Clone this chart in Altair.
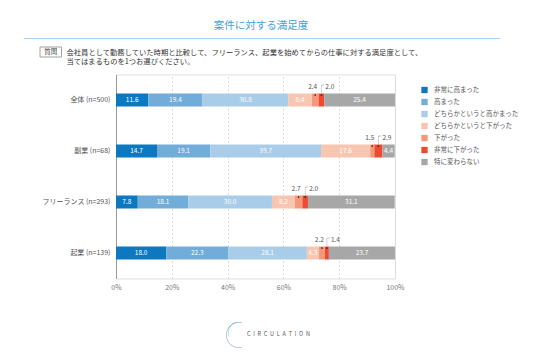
import altair as alt
import pandas as pd

categories = ["全体 (n=500)", "副業 (n=68)", "フリーランス (n=293)", "起業 (n=139)"]
levels = ["非常に高まった", "高まった", "どちらかというと高かまった", "どちらかというと下がった",
          "下がった", "非常に下がった", "特に変わらない"]
colors = ["#0b78bf", "#72acd9", "#a9cce9", "#f8c6b0", "#f4977a", "#ee4a30", "#a8a7a8"]

very_up = [11.6, 14.7, 7.8, 18.0]
up = [19.4, 19.1, 18.1, 22.3]
slightly_up = [30.8, 39.7, 30.0, 28.1]
slightly_down = [8.4, 17.6, 8.2, 4.3]
down = [2.4, 1.5, 2.7, 2.2]
very_down = [2.0, 2.9, 2.0, 1.4]
unchanged = [25.4, 4.4, 31.1, 23.7]
series = [very_up, up, slightly_up, slightly_down, down, very_down, unchanged]

title_text = "案件に対する満足度"
question_tag = "質問"
question_lines = ["会社員として勤務していた時期と比較して、フリーランス、起業を始めてからの仕事に対する満足度として、",
                  "当てはまるものを1つお選びください。"]
logo_text = "C\u2002I\u2002R\u2002C\u2002U\u2002L\u2002A\u2002T\u2002I\u2002O\u2002N"
x_ticks = [0, 20, 40, 60, 80, 100]

rows = []
for i, c in enumerate(categories):
    start = 0.0
    for j, lv in enumerate(levels):
        v = series[j][i]
        rows.append(dict(cat=c, level=lv, order=j, value=v, start=start, end=start + v,
                         mid=start + v / 2, lab=f"{v:.1f}"))
        start += v
df = pd.DataFrame(rows)
df["mid_r"] = df["mid"] + 1.0

FONT = "Noto Sans CJK JP"
W, H = 279, 204

y_enc = alt.Y("cat:N", sort=categories,
              scale=alt.Scale(paddingInner=0, paddingOuter=0),
              axis=alt.Axis(title=None, ticks=False, domain=True, domainColor="#9a9a9a",
                            domainWidth=1, labelFontSize=7, labelColor="#555",
                            labelPadding=6, grid=False, labelFont=FONT))
x_scale = alt.Scale(domain=[0, 100], nice=False)

bars = alt.Chart(df).mark_bar(size=13).encode(
    x=alt.X("start:Q", scale=x_scale,
            axis=alt.Axis(values=x_ticks, labelExpr="datum.value + '%'", title=None,
                          domain=False, ticks=False, grid=True, gridDash=[2, 2],
                          gridColor="#dcdcdc", labelFontSize=7, labelColor="#777",
                          labelPadding=5, labelFont=FONT, labelFlush=False,
                          labelOverlap=False)),
    x2="end:Q",
    y=y_enc,
    order=alt.Order("order:Q"),
    color=alt.Color("level:N", scale=alt.Scale(domain=levels, range=colors),
                    legend=alt.Legend(orient="none", legendX=305, legendY=12, title=None,
                                      symbolType="square", symbolSize=40,
                                      symbolStrokeWidth=0, labelFontSize=6.5,
                                      labelColor="#555", labelFont=FONT,
                                      rowPadding=5, labelOffset=6)),
)

inner = alt.Chart(df[df["value"] >= 3]).mark_text(
    color="white", fontSize=6.5, font=FONT).encode(
    x=alt.X("mid:Q", scale=x_scale), y=alt.Y("cat:N", sort=categories), text="lab:N")

d1 = df[df["level"] == "下がった"]
d2 = df[df["level"] == "非常に下がった"]

small1 = alt.Chart(d1).mark_text(align="right", dx=2, dy=-13, fontSize=6.5,
                                 color="#555", font=FONT).encode(
    x=alt.X("mid:Q", scale=x_scale), y=alt.Y("cat:N", sort=categories), text="lab:N")
small2 = alt.Chart(d2).mark_text(align="left", dx=4, dy=-13, fontSize=6.5,
                                 color="#555", font=FONT).encode(
    x=alt.X("mid:Q", scale=x_scale), y=alt.Y("cat:N", sort=categories), text="lab:N")
dots = alt.Chart(pd.concat([d1, d2])).mark_circle(size=3, color="#222", opacity=1,
                                                   yOffset=-5).encode(
    x=alt.X("mid:Q", scale=x_scale), y=alt.Y("cat:N", sort=categories))
lead_v = alt.Chart(d2).mark_tick(orient="vertical", size=8, thickness=0.6, color="#999",
                                 yOffset=-11).encode(
    x=alt.X("mid:Q", scale=x_scale), y=alt.Y("cat:N", sort=categories))
lead_h = alt.Chart(d2).mark_rule(color="#999", strokeWidth=0.6, yOffset=-15).encode(
    x=alt.X("mid:Q", scale=x_scale), x2="mid_r:Q", y=alt.Y("cat:N", sort=categories))

ann = pd.DataFrame({"t": [title_text]})
title = alt.Chart(ann).mark_text(fontSize=10.5, color="#3fa0d8", font=FONT).encode(
    x=alt.value(145), y=alt.value(-48.5), text="t:N")
hline = alt.Chart(ann).mark_rule(color="#a6d3ef", strokeWidth=1).encode(
    x=alt.value(-92), x2=alt.value(384), y=alt.value(-36))
qbox = alt.Chart(ann).mark_rect(fill="white", stroke="#888", strokeWidth=0.8).encode(
    x=alt.value(-76), x2=alt.value(-54.5), y=alt.value(-27.5), y2=alt.value(-17.5))
qtag = alt.Chart(pd.DataFrame({"t": [question_tag]})).mark_text(
    fontSize=6.5, color="#444", font=FONT).encode(
    x=alt.value(-65.2), y=alt.value(-22.3), text="t:N")
q1 = alt.Chart(pd.DataFrame({"t": [question_lines[0]]})).mark_text(
    fontSize=7.3, color="#333", font=FONT, align="left").encode(
    x=alt.value(-49.5), y=alt.value(-21.8), text="t:N")
q2 = alt.Chart(pd.DataFrame({"t": [question_lines[1]]})).mark_text(
    fontSize=7.3, color="#333", font=FONT, align="left").encode(
    x=alt.value(-49.5), y=alt.value(-12.8), text="t:N")
logo_arc = alt.Chart(ann).mark_arc(radius=13, radius2=12.4, theta=2.9, theta2=6.5,
                                   color="#8fa3b3").encode(
    x=alt.value(123), y=alt.value(260.5))
logo_arc2 = alt.Chart(ann).mark_arc(radius=11, radius2=10.5, theta=4.3, theta2=5.9,
                                    color="#7fc0e8").encode(
    x=alt.value(123), y=alt.value(258))
logo = alt.Chart(pd.DataFrame({"t": [logo_text]})).mark_text(
    fontSize=5.5, color="#555", font=FONT, align="left").encode(
    x=alt.value(131), y=alt.value(259.5), text="t:N")

chart = alt.layer(bars, inner, small1, small2, dots, lead_v, lead_h,
                  title, hline, qbox, qtag, q1, q2, logo_arc, logo_arc2, logo).properties(
    width=W, height=H,
    autosize=alt.AutoSizeParams(type="none"),
    padding={"left": 108, "top": 66.5, "right": 133, "bottom": 72},
).configure_view(stroke=None).configure(background="white")

chart.save("out.html", embed_options={"renderer": "svg", "actions": False})
